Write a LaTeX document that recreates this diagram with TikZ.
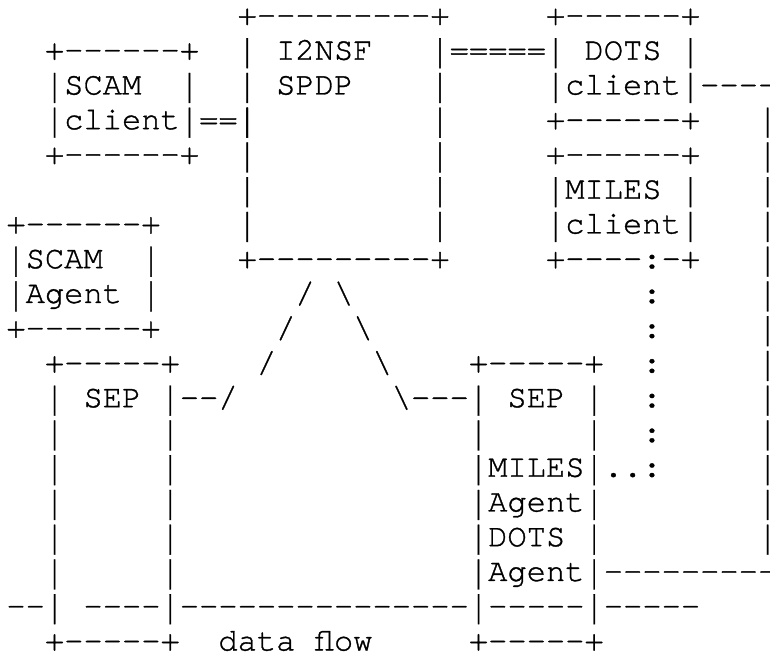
\documentclass[tikz,border=0pt]{standalone}
\usepackage{fontspec}
\setmonofont{TeX Gyre Cursor}[FakeBold=1]
\usepackage{graphicx}
\usepackage{tikz}

% taller bar glyph, so that the box sides run on from row to row
\newsavebox\barbox
\newcommand{\vbar}{\sbox\barbox{\char124}\raisebox{-8.5pt}{\resizebox*{\wd\barbox}{30pt}{\raisebox{\dp\barbox}{\char124}}}}
{\catcode`\|=\active \gdef|{\vbar}}

\tikzset{
  asc/.style={font=\ttfamily\fontsize{32.12pt}{34.75pt}\selectfont, inner sep=0pt, outer sep=0pt, anchor=base west}
}

\begin{document}
\catcode`\|=\active
\begin{tikzpicture}[x=19.27pt, y=-34.75pt]
    \useasboundingbox (-0.332,-0.719) rectangle (39.626,18.015);

    % I2NSF SPDP
    \node[asc] (spdptop) at (12,0) {+---------+};
    \node[asc] (spdpname) at (12,1) {| I2NSF};
    \node[asc] (spdplink) at (22,1) {|=====| DOTS |};
    \node[asc] (spdpsub) at (12,2) {| SPDP};
    \node[asc] (spdpr2) at (22,2) {|};
    \foreach \r in {3,...,6} {
        \node[asc] (spdpl\r) at (12,\r) {|};
        \node[asc] (spdpr\r) at (22,\r) {|};
    }
    \node[asc] (spdpbot) at (12,7) {+---------+};
    \node[asc] (fan1) at (15,8) {/ \textbackslash};
    \node[asc] (fan2l) at (14,9) {/};
    \node[asc] (fan2r) at (18,9) {\textbackslash};
    \node[asc] (fan3l) at (13,10) {/};
    \node[asc] (fan3r) at (19,10) {\textbackslash};

    % SCAM client
    \node[asc] (scamctop) at (2,1) {+------+};
    \node[asc] (scamcname) at (2,2) {|SCAM};
    \node[asc] (scamcr) at (9,2) {|};
    \node[asc] (scamcsub) at (2,3) {|client|==|};
    \node[asc] (scamcbot) at (2,4) {+------+};

    % DOTS client
    \node[asc] (dotstop) at (28,0) {+------+};
    \node[asc] (dotssub) at (28,2) {|client|----};
    \node[asc] (dotsbot) at (28,3) {+------+};

    % MILES client
    \node[asc] (milestop) at (28,4) {+------+};
    \node[asc] (milesname) at (28,5) {|MILES |};
    \node[asc] (milessub) at (28,6) {|client|};
    \node[asc] (milesbot) at (28,7) {+----:-+};
    \foreach \r in {8,...,12} \node[asc] (dots\r) at (33,\r) {:};

    % right side line
    \foreach \r in {3,...,15} \node[asc] (side\r) at (39,\r) {|};

    % SCAM Agent
    \node[asc] (scamatop) at (0,6) {+------+};
    \node[asc] (scamaname) at (0,7) {|SCAM};
    \node[asc] (scamar) at (7,7) {|};
    \node[asc] (scamasub) at (0,8) {|Agent |};
    \node[asc] (scamabot) at (0,9) {+------+};

    % left SEP
    \node[asc] (sepatop) at (2,10) {+-----+};
    \node[asc] (sepaname) at (2,11) {| SEP |--/};
    \foreach \r in {12,...,16} {
        \node[asc] (sepal\r) at (2,\r) {|};
        \node[asc] (separ\r) at (8,\r) {|};
    }
    \node[asc] (sepabot) at (2,18) {+-----+};

    % right SEP
    \node[asc] (sepbtop) at (24,10) {+-----+};
    \node[asc] (sepbname) at (20,11) {\textbackslash---| SEP |};
    \node[asc] (sepbl12) at (24,12) {|};
    \node[asc] (sepbr12) at (30,12) {|};
    \node[asc] (sepb13) at (24,13) {|MILES|..:};
    \node[asc] (sepb14) at (24,14) {|Agent|};
    \node[asc] (sepb15) at (24,15) {|DOTS};
    \node[asc] (sepbr15) at (30,15) {|};
    \node[asc] (sepb16) at (24,16) {|Agent|---------};
    \node[asc] (sepbbot) at (24,18) {+-----+};

    % data flow
    \node[asc] (flow) at (0,17) {--| ----|---------------|-----|-----};
    \node[asc] (flowlabel) at (11,18) {data flow};
\end{tikzpicture}
\end{document}
